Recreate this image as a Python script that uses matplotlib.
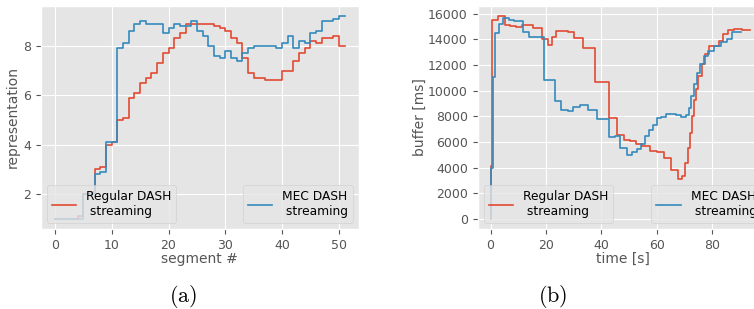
import matplotlib.pyplot as plt
import numpy as np

plt.style.use('ggplot')
plt.rcParams['font.size'] = 9
plt.rcParams['axes.labelsize'] = 10
plt.rcParams['legend.fontsize'] = 8.8
plt.rcParams['mathtext.fontset'] = 'cm'

# (a) representation per segment
rep_regular = [1.0, 1.0, 1.0, 1.0, 1.1, 2.0, 2.1, 3.0, 3.1, 4.0, 4.1, 5.0, 5.1, 5.9,
               6.1, 6.5, 6.7, 6.9, 7.3, 7.7, 7.9, 8.3, 8.5, 8.9, 8.9, 8.9, 8.9, 8.9,
               8.8, 8.7, 8.6, 8.3, 8.1, 7.5, 6.9, 6.7, 6.7, 6.6, 6.6, 6.6, 7.0, 7.0,
               7.4, 7.7, 7.9, 8.2, 8.1, 8.3, 8.3, 8.4, 8.0, 8.0]
rep_mec = [1.0, 1.0, 1.0, 1.0, 1.0, 2.0, 2.0, 2.8, 2.9, 4.1, 4.1, 7.9, 8.1, 8.6,
           8.9, 9.0, 8.9, 8.9, 8.9, 8.5, 8.7, 8.9, 8.8, 8.8, 9.0, 8.6, 8.4, 8.0,
           7.6, 7.5, 7.8, 7.5, 7.4, 7.7, 7.9, 8.0, 8.0, 8.0, 8.0, 7.9, 8.1, 8.4,
           7.9, 8.2, 8.1, 8.5, 8.6, 9.0, 9.0, 9.1, 9.2, 9.2]

# (b) buffer level over time
t_regular = [0, 0.3, 0.5, 0.7, 2.6, 5.1, 7.2, 9.2, 11.3, 15.4, 18.4, 20.7, 22.2, 23.6,
             27.9, 30.3, 33.2, 37.7, 42.6, 45.7, 48.2, 50.4, 52.4, 54.8, 57.5, 60.1,
             62.7, 65.1, 67.5, 69.0, 70.2, 71.2, 72.0, 72.7, 73.4, 74.2, 75.0, 76.3,
             77.5, 78.7, 82.4, 83.9, 85.8, 87.8, 90.7, 93.5]
buf_regular = [0, 4100, 13700, 15500, 15800, 15120, 15050, 14970, 15080, 14900, 14020,
               13560, 14150, 14610, 14530, 14100, 13350, 10700, 7860, 6550, 6120, 6060,
               5820, 5690, 5300, 5200, 4760, 3800, 3100, 3340, 4370, 5500, 6700, 8000,
               9230, 10140, 11100, 12080, 12860, 13450, 13890, 14410, 14720, 14800,
               14750, 14750]
t_mec = [0, 0.1, 0.9, 1.7, 3.1, 4.5, 6.6, 8.6, 11.8, 13.9, 19.2, 23.2, 25.5, 27.9,
         29.9, 32.4, 35.2, 38.4, 42.6, 45.0, 46.8, 49.4, 51.0, 52.8, 54.2, 55.6, 57.3,
         58.6, 60.0, 61.7, 63.4, 66.8, 68.9, 70.4, 71.5, 72.4, 73.3, 74.4, 75.7, 77.0,
         78.5, 80.5, 83.0, 85.5, 87.2, 90.5]
buf_mec = [0, 4000, 11040, 14460, 15190, 15650, 15500, 15390, 14530, 14200, 10840,
           9180, 8510, 8430, 8690, 8870, 8460, 7810, 6350, 6420, 5510, 4990, 5200,
           5460, 5850, 6450, 6900, 7350, 7850, 7950, 8170, 8100, 7970, 8090, 8640,
           9550, 10520, 11330, 12050, 12680, 13110, 13450, 13800, 14000, 14600, 14600]

labels = ['Regular DASH\n streaming', 'MEC DASH\n streaming']
red, blue = '#E24A33', '#348ABD'

W, H = 754, 309
fig = plt.figure(figsize=(W / 100, H / 100), dpi=100)
ax1 = fig.add_axes([40.5 / W, 80 / H, 318.5 / W, 223 / H])
ax2 = fig.add_axes([477.6 / W, 80 / H, 290 / W, 223 / H])

seg = np.arange(len(rep_regular))
l1, = ax1.step(seg, rep_regular, where='post', color=red, lw=1.2)
l2, = ax1.step(seg, rep_mec, where='post', color=blue, lw=1.2)
ax1.set_xlabel('segment #', labelpad=0)
ax1.set_ylabel('representation', labelpad=2)
ax1.set_yticks([2, 4, 6, 8])

m1, = ax2.step(t_regular, buf_regular, where='post', color=red, lw=1.2)
m2, = ax2.step(t_mec, buf_mec, where='post', color=blue, lw=1.2)
ax2.set_xlabel('time [s]', labelpad=0)
ax2.set_ylabel('buffer [ms]', labelpad=1)
ax2.set_yticks(np.arange(0, 16001, 2000))
ax2.set_xticks([0, 20, 40, 60, 80, 100])

for ax, (a, b) in [(ax1, (l1, l2)), (ax2, (m1, m2))]:
    lg = ax.legend([a], [labels[0]], loc='lower left')
    ax.add_artist(lg)
    ax.legend([b], [labels[1]], loc='lower right')

fig.text(183 / W, 1 - 296 / H, r'$\mathrm{(a)}$', ha='center', va='center', fontsize=16)
fig.text(553 / W, 1 - 296 / H, r'$\mathrm{(b)}$', ha='center', va='center', fontsize=16)

fig.savefig('out.png', dpi=100)
